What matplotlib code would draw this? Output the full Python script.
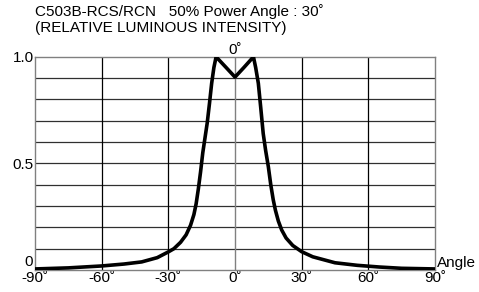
import matplotlib.pyplot as plt

plt.rcParams['font.family'] = ['Liberation Sans', 'DejaVu Sans']

# angle (deg) vs relative luminous intensity
angles = [-90, -75, -60, -50, -42, -35, -30, -27.5, -24.5, -22, -20, -18.5,
          -17.5, -16.5, -15.5, -14.5, -13.5, -12.5, -11.5, -10.5, -9.5, -8.5,
          -4, 0, 4, 8.3, 9.3, 10.5, 11.6, 12.7, 13.8, 15, 16.1, 17.2, 18.2,
          19.5, 21, 23, 26, 30, 35, 45, 55, 65, 75, 90]
intensity = [0.005, 0.01, 0.019, 0.028, 0.038, 0.058, 0.085, 0.10, 0.13, 0.165,
             0.21, 0.26, 0.31, 0.38, 0.46, 0.55, 0.62, 0.69, 0.78, 0.876, 0.95,
             1.0, 0.95, 0.905, 0.95, 1.0, 0.95, 0.876, 0.76, 0.64, 0.56, 0.485,
             0.40, 0.33, 0.28, 0.23, 0.188, 0.15, 0.115, 0.086, 0.062, 0.034,
             0.022, 0.014, 0.008, 0.005]

xticks = [-90, -60, -30, 0, 30, 60, 90]
yticks = [0, 0.5, 1.0]
ytick_labels = ['0', '0.5', '1.0']

fig = plt.figure(figsize=(4.79, 2.92), dpi=100)
ax = fig.add_axes([0.0731, 0.0753, 0.835, 0.730])

# grid
for y in [i / 10 for i in range(1, 10)]:
    ax.axhline(y, color='#303030', lw=0.9, zorder=1)
for x in [-60, -30, 30, 60]:
    ax.axvline(x, color='black', lw=0.9, zorder=1)
ax.axvline(0, color='#808080', lw=1.0, zorder=1)

ax.plot(angles, intensity, color='black', lw=2.6, zorder=3,
        solid_joinstyle='round')

ax.set_xlim(-90, 90)
ax.set_ylim(0, 1.0)
for s in ax.spines.values():
    s.set_color('#808080')
    s.set_linewidth(1.0)

fs = 11
ax.set_xticks(xticks)
ax.set_xticklabels([f'{t}˚' for t in xticks], fontsize=fs)
ax.set_yticks(yticks[1:])
ax.set_yticklabels(ytick_labels[1:], fontsize=fs)
ax.tick_params(length=0, pad=1)
ax.tick_params(axis='x', pad=0.5)
ax.text(-91, 0.006, '0', ha='right', va='bottom', fontsize=fs)

ax.text(0, 1.0, '0˚', ha='center', va='bottom', fontsize=fs)
ax.text(91, 0.0, 'Angle', ha='left', va='bottom', fontsize=fs)

fig.text(0.073, 0.985, 'C503B-RCS/RCN   50% Power Angle : 30˚',
         ha='left', va='top', fontsize=fs)
fig.text(0.073, 0.927, '(RELATIVE LUMINOUS INTENSITY)',
         ha='left', va='top', fontsize=fs)

fig.savefig('out.png', dpi=100)
